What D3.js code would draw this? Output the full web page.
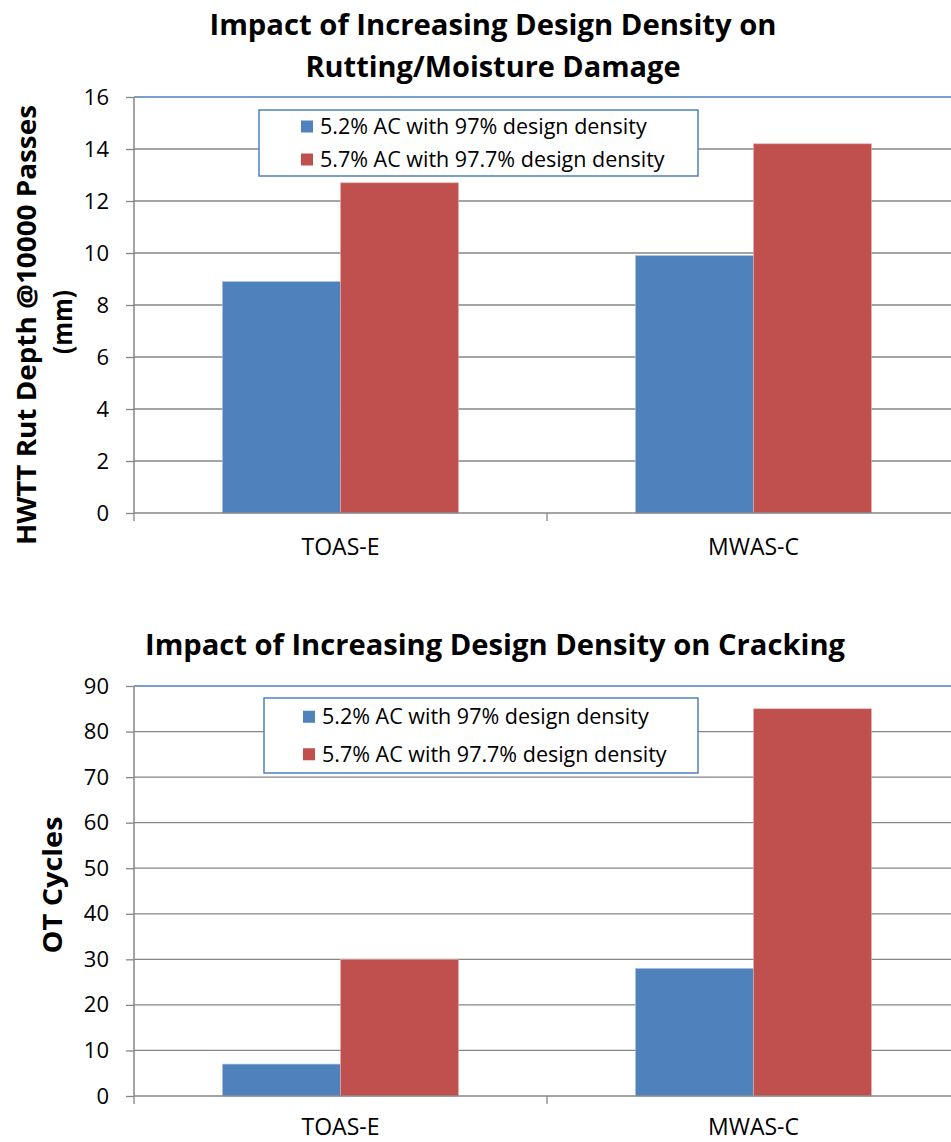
<!DOCTYPE html>
<html><head><meta charset="utf-8">
<script src="https://cdn.jsdelivr.net/npm/d3@7"></script>
<style>body{margin:0;background:#fff}svg{display:block}text{font-family:"Open Sans",sans-serif}</style>
</head><body><svg id="c" width="951" height="1142"></svg>
<script>
const categories = ["TOAS-E", "MWAS-C"];
const seriesNames = ["5.2% AC with 97% design density", "5.7% AC with 97.7% design density"];
const rutLow = [8.9, 9.9];
const rutHigh = [12.7, 14.2];
const otLow = [7, 28];
const otHigh = [30, 85];
const rutTicks = [0, 2, 4, 6, 8, 10, 12, 14, 16];
const otTicks = [0, 10, 20, 30, 40, 50, 60, 70, 80, 90];
const colors = ["#4f81bd", "#c0504d"];

const svg = d3.select("#c");

function chart(cfg) {
  const g = svg.append("g");
  const x = d3.scaleBand().domain(categories).range([cfg.x0, cfg.x0 + 826]);
  const y = d3.scaleLinear().domain([0, cfg.max]).range([cfg.yb, cfg.yt]);
  const sub = d3.scaleBand().domain([0, 1]).range([0, x.bandwidth()]).paddingOuter(0.75).paddingInner(0);
  g.selectAll(".grid").data(cfg.ticks.filter(t => t > 0 && t < cfg.max)).join("line")
    .attr("x1", cfg.x0).attr("x2", 951).attr("y1", d => y(d)).attr("y2", d => y(d))
    .attr("stroke", "#868686").attr("stroke-width", 1.3);
  g.append("line").attr("x1", cfg.x0).attr("x2", 951).attr("y1", y(cfg.max)).attr("y2", y(cfg.max))
    .attr("stroke", "#4f81bd").attr("stroke-width", 1.5);
  const series = [cfg.low, cfg.high];
  series.forEach((vals, si) => {
    g.selectAll(".b" + si).data(categories).join("rect")
      .attr("x", d => x(d) + sub(si)).attr("width", sub.bandwidth())
      .attr("y", (d, i) => y(vals[i])).attr("height", (d, i) => y(0) - y(vals[i]))
      .attr("fill", colors[si]).attr("stroke", si ? "#e6b0ae" : "#a9c0de").attr("stroke-width", 0.6);
  });
  const ya = g.append("g").attr("transform", `translate(${cfg.x0},0)`)
    .call(d3.axisLeft(y).tickValues(cfg.ticks).tickSize(8).tickPadding(17).tickFormat(d3.format("d")));
  ya.select(".domain").attr("stroke", "#868686").attr("stroke-width", 1.5).attr("d", `M0,${cfg.yt}V${cfg.yb}`);
  ya.selectAll(".tick line").attr("stroke", "#868686").attr("stroke-width", 1.3);
  ya.selectAll(".tick text").attr("font-size", 22).attr("fill", "#000").attr("font-family", '"Open Sans",sans-serif');
  const xa = g.append("g").attr("transform", `translate(0,${cfg.yb})`)
    .call(d3.axisBottom(x).tickSize(0).tickPadding(cfg.xpad));
  xa.select(".domain").attr("stroke", "#868686").attr("stroke-width", 1.5).attr("d", `M${cfg.x0},0H951`);
  xa.selectAll(".tick text").attr("font-size", 23).attr("fill", "#000").attr("font-family", '"Open Sans",sans-serif').attr("dy", "0.71em");
  [cfg.x0, cfg.x0 + x.bandwidth()].forEach(px => {
    g.append("line").attr("x1", px).attr("x2", px).attr("y1", cfg.yb).attr("y2", cfg.yb + 8)
      .attr("stroke", "#868686").attr("stroke-width", 1.3);
  });
  const L = cfg.legend;
  g.append("rect").attr("x", L.x).attr("y", L.y).attr("width", L.w).attr("height", L.h)
    .attr("fill", "#fff").attr("stroke", "#4f81bd").attr("stroke-width", 1.5);
  seriesNames.forEach((n, i) => {
    const cy = L.y + L.h * (i * 2 + 1) / 4;
    g.append("rect").attr("x", L.sx).attr("y", cy - 6).attr("width", 12).attr("height", 12).attr("fill", colors[i]);
    g.append("text").attr("x", L.sx + 19).attr("y", cy).attr("dy", "0.35em").attr("font-size", 21.5).text(n);
  });
  cfg.title.forEach((t, i) => {
    g.append("text").attr("x", cfg.tx).attr("y", cfg.ty + i * 42).attr("text-anchor", "middle")
      .attr("font-size", 28).attr("font-weight", "bold")
      .attr("textLength", cfg.tlen[i]).attr("lengthAdjust", "spacingAndGlyphs").text(t);
  });
  cfg.ytitle.forEach((t, i) => {
    g.append("text").attr("transform", `translate(${cfg.ytx[i]},${cfg.yty[i]}) rotate(-90)`)
      .attr("text-anchor", "middle").attr("font-size", 27).attr("font-weight", "bold")
      .attr("textLength", cfg.ylen[i]).attr("lengthAdjust", "spacingAndGlyphs").text(t);
  });
}

chart({x0: 134, yt: 97, yb: 513, max: 16, ticks: rutTicks, low: rutLow, high: rutHigh, xpad: 26,
  legend: {x: 259, y: 110, w: 439, h: 66, sx: 301},
  title: ["Impact of Increasing Design Density on", "Rutting/Moisture Damage"], tx: 493, ty: 35, tlen: [567, 375],
  ytitle: ["HWTT Rut Depth @10000 Passes", "(mm)"], ytx: [36, 72], yty: [325, 322], ylen: [440, 64]});
chart({x0: 134, yt: 686, yb: 1096, max: 90, ticks: otTicks, low: otLow, high: otHigh, xpad: 23,
  legend: {x: 264, y: 698, w: 434, h: 75, sx: 303},
  title: ["Impact of Increasing Design Density on Cracking"], tx: 495, ty: 655, tlen: [700],
  ytitle: ["OT Cycles"], ytx: [62], yty: [885], ylen: [137]});
</script></body></html>
